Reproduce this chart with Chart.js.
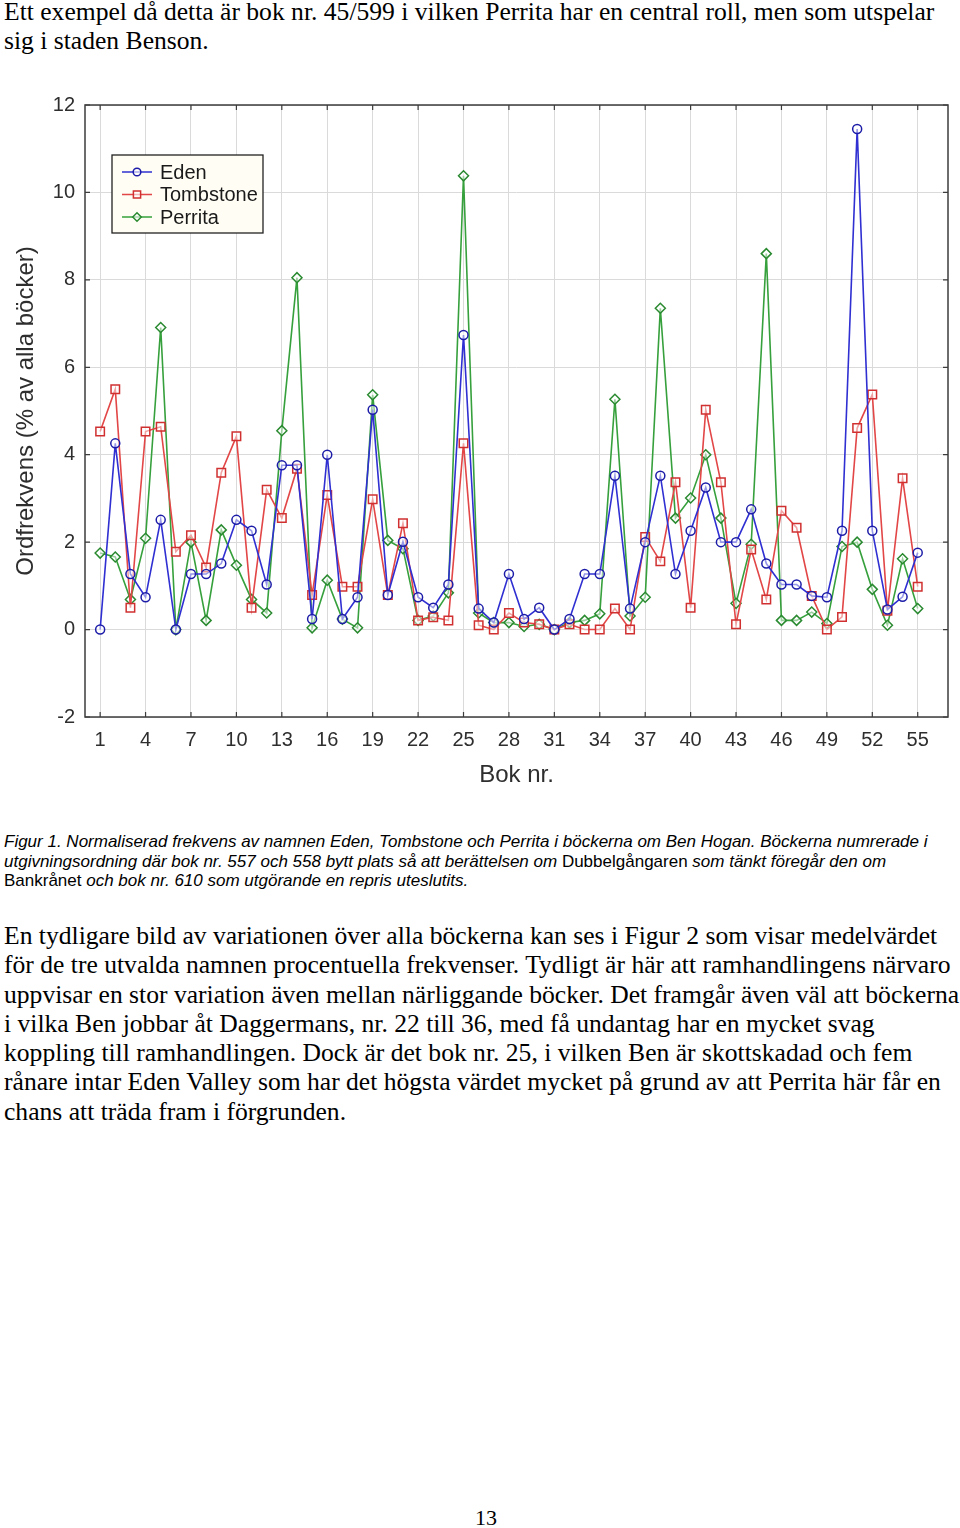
<!DOCTYPE html>
<html>
<head>
<meta charset="utf-8">
<script src="https://cdn.jsdelivr.net/npm/chart.js@4.4.1/dist/chart.umd.min.js"></script>
<style>
  body { margin: 0; background: #fff; width: 960px; height: 1528px; position: relative; overflow: hidden; }
  .serif { font-family: "Liberation Serif", "Times New Roman", serif; font-size: 25.6px; line-height: 29.3px; color: #000; position: absolute; left: 4px; white-space: nowrap; }
  .caption { font-family: "Liberation Sans", Arial, sans-serif; font-size: 17px; line-height: 19.6px; color: #000; position: absolute; left: 4px; top: 832px; white-space: nowrap; font-style: italic; }
  .caption span { font-style: normal; }
  #wrap { position: absolute; left: 0; top: 60px; width: 960px; height: 740px; }
  #pageno { position: absolute; left: 0; width: 972px; text-align: center; top: 1505px; font-family: "Liberation Serif", serif; font-size: 22px; }
</style>
</head>
<body>
<div class="serif" style="top:-3px">Ett exempel då detta är bok nr. 45/599 i vilken Perrita har en central roll, men som utspelar<br>sig i staden Benson.</div>

<div id="wrap"><canvas id="chart"></canvas></div>

<div class="caption">Figur 1. Normaliserad frekvens av namnen Eden, Tombstone och Perrita i böckerna om Ben Hogan. Böckerna numrerade i<br>utgivningsordning där bok nr. 557 och 558 bytt plats så att berättelsen om <span>Dubbelgångaren</span> som tänkt föregår den om<br><span>Bankrånet</span> och bok nr. 610 som utgörande en repris uteslutits.</div>

<div class="serif" style="top:921px">En tydligare bild av variationen över alla böckerna kan ses i Figur 2 som visar medelvärdet<br>för de tre utvalda namnen procentuella frekvenser. Tydligt är här att ramhandlingens närvaro<br>uppvisar en stor variation även mellan närliggande böcker. Det framgår även väl att böckerna<br>i vilka Ben jobbar åt Daggermans, nr. 22 till 36, med få undantag har en mycket svag<br>koppling till ramhandlingen. Dock är det bok nr. 25, i vilken Ben är skottskadad och fem<br>rånare intar Eden Valley som har det högsta värdet mycket på grund av att Perrita här får en<br>chans att träda fram i förgrunden.</div>

<div id="pageno">13</div>

<script>
// bok nr. 1-55
const books = [1, 2, 3, 4, 5, 6, 7, 8, 9, 10, 11, 12, 13, 14, 15, 16, 17, 18, 19, 20,
  21, 22, 23, 24, 25, 26, 27, 28, 29, 30, 31, 32, 33, 34, 35, 36, 37, 38, 39, 40,
  41, 42, 43, 44, 45, 46, 47, 48, 49, 50, 51, 52, 53, 54, 55];

// ordfrekvens i % av alla böcker
const eden = [0.0, 4.26, 1.27, 0.74, 2.51, 0.0, 1.27, 1.27, 1.51, 2.51,
  2.26, 1.03, 3.76, 3.76, 0.24, 4.0, 0.24, 0.74, 5.03, 0.79,
  2.01, 0.74, 0.50, 1.03, 6.74, 0.48, 0.16, 1.27, 0.24, 0.50,
  0.0, 0.24, 1.27, 1.27, 3.52, 0.48, 2.0, 3.52, 1.27, 2.26,
  3.25, 2.0, 2.0, 2.75, 1.51, 1.03, 1.03, 0.77, 0.74, 2.26,
  11.45, 2.26, 0.46, 0.75, 1.76];
const tombstone = [4.53, 5.50, 0.50, 4.53, 4.64, 1.78, 2.16, 1.42, 3.59, 4.42,
  0.50, 3.20, 2.55, 3.68, 0.79, 3.08, 0.98, 0.98, 2.98, 0.79,
  2.43, 0.21, 0.28, 0.21, 4.26, 0.10, 0.0, 0.38, 0.16, 0.12,
  0.0, 0.12, 0.0, 0.0, 0.48, 0.0, 2.12, 1.56, 3.37, 0.50,
  5.03, 3.37, 0.12, 1.83, 0.69, 2.72, 2.33, 0.77, 0.0, 0.29,
  4.61, 5.38, 0.43, 3.46, 0.98];
const perrita = [1.75, 1.66, 0.69, 2.09, 6.91, 0.0, 2.0, 0.21, 2.28, 1.47,
  0.69, 0.38, 4.55, 8.05, 0.04, 1.13, 0.24, 0.04, 5.37, 2.04,
  1.85, 0.21, 0.31, 0.84, 10.38, 0.38, 0.16, 0.16, 0.07, 0.12,
  0.0, 0.16, 0.21, 0.36, 5.27, 0.31, 0.74, 7.35, 2.55, 3.01,
  4.0, 2.55, 0.60, 1.95, 8.60, 0.21, 0.21, 0.40, 0.14, 1.90,
  2.0, 0.92, 0.10, 1.62, 0.48];

const bookTicks = [1, 4, 7, 10, 13, 16, 19, 22, 25, 28, 31, 34, 37, 40, 43, 46, 49, 52, 55];
const freqTicks = [-2, 0, 2, 4, 6, 8, 10, 12];

const series = [
  { label: 'Eden', values: eden, color: '#2f2fd2', marker: '#1c1ca8', style: 'circle', r: 4.5 },
  { label: 'Tombstone', values: tombstone, color: '#e24646', marker: '#d03030', style: 'rect', r: 6 },
  { label: 'Perrita', values: perrita, color: '#36a03c', marker: '#2a8a30', style: 'rectRot', r: 5 }
];

const AXIS_FONT = '"Liberation Sans", Arial, sans-serif';

// ram runt plottytan + små inåtriktade streck, och legenden i övre vänstra hörnet
const framePlugin = {
  id: 'frame',
  afterDatasetsDraw(chart) {
    const { ctx, chartArea: a, scales } = chart;
    ctx.save();
    ctx.strokeStyle = '#3c3c3c';
    ctx.lineWidth = 1.5;
    ctx.strokeRect(a.left, a.top, a.right - a.left, a.bottom - a.top);
    ctx.lineWidth = 1.2;
    ctx.beginPath();
    bookTicks.forEach(v => {
      const x = scales.x.getPixelForValue(v);
      ctx.moveTo(x, a.top); ctx.lineTo(x, a.top + 5);
      ctx.moveTo(x, a.bottom); ctx.lineTo(x, a.bottom - 5);
    });
    freqTicks.forEach(v => {
      const y = scales.y.getPixelForValue(v);
      ctx.moveTo(a.left, y); ctx.lineTo(a.left + 5, y);
      ctx.moveTo(a.right, y); ctx.lineTo(a.right - 5, y);
    });
    ctx.stroke();

    // legend
    const bx = a.left + 27, by = a.top + 50, bw = 151, bh = 78;
    ctx.fillStyle = '#fffdf4';
    ctx.fillRect(bx, by, bw, bh);
    ctx.strokeStyle = '#222';
    ctx.lineWidth = 1.3;
    ctx.strokeRect(bx, by, bw, bh);
    ctx.font = '20px ' + AXIS_FONT;
    ctx.textBaseline = 'middle';
    series.forEach((s, i) => {
      const y = by + 17 + i * 22.5;
      ctx.strokeStyle = s.color;
      ctx.lineWidth = 1.5;
      ctx.beginPath();
      ctx.moveTo(bx + 10, y); ctx.lineTo(bx + 40, y);
      ctx.stroke();
      ctx.fillStyle = 'rgba(255,255,255,0.6)';
      ctx.strokeStyle = s.marker;
      Chart.helpers.drawPoint(ctx, { pointStyle: s.style, radius: s.r * 0.85, borderWidth: 1.4, rotation: 0 }, bx + 25, y);
      ctx.fillStyle = '#1a1a1a';
      ctx.fillText(s.label, bx + 48, y + 1);
    });
    ctx.restore();
  }
};

new Chart(document.getElementById('chart'), {
  type: 'line',
  data: {
    datasets: series.map(s => ({
      label: s.label,
      data: books.map((b, i) => ({ x: b, y: s.values[i] })),
      borderColor: s.color,
      borderWidth: 1.6,
      pointStyle: s.style,
      pointRadius: s.r,
      pointBorderColor: s.marker,
      pointBorderWidth: 1.5,
      pointBackgroundColor: 'rgba(255,255,255,0.5)',
      tension: 0,
      fill: false
    }))
  },
  options: {
    animation: false,
    responsive: true,
    maintainAspectRatio: false,
    layout: { padding: { top: 45, right: 12, left: 0, bottom: 0 } },
    plugins: { legend: { display: false }, tooltip: { enabled: false } },
    scales: {
      x: {
        type: 'linear',
        min: 0,
        max: 57,
        afterBuildTicks: s => { s.ticks = bookTicks.map(v => ({ value: v })); },
        afterFit: s => { s.height = 83; },
        grid: { color: '#dadada', lineWidth: 1, drawTicks: false },
        border: { display: false },
        ticks: { padding: 11, color: '#2e2e2e', font: { family: AXIS_FONT, size: 20 }, maxRotation: 0, autoSkip: false, callback: v => String(v) },
        title: { display: true, text: 'Bok nr.', color: '#2e2e2e', font: { family: AXIS_FONT, size: 24 }, padding: { top: 0, bottom: 10 } }
      },
      y: {
        min: -2,
        max: 12,
        afterBuildTicks: s => { s.ticks = freqTicks.map(v => ({ value: v })); },
        afterFit: s => { s.width = 85; },
        grid: { color: '#dadada', lineWidth: 1, drawTicks: false },
        border: { display: false },
        ticks: { padding: 10, color: '#2e2e2e', font: { family: AXIS_FONT, size: 20 }, callback: v => String(v) },
        title: { display: true, text: 'Ordfrekvens (% av alla böcker)', color: '#2e2e2e', font: { family: AXIS_FONT, size: 24 }, padding: { top: 12, bottom: 0 } }
      }
    }
  },
  plugins: [framePlugin]
});
</script>
</body>
</html>
